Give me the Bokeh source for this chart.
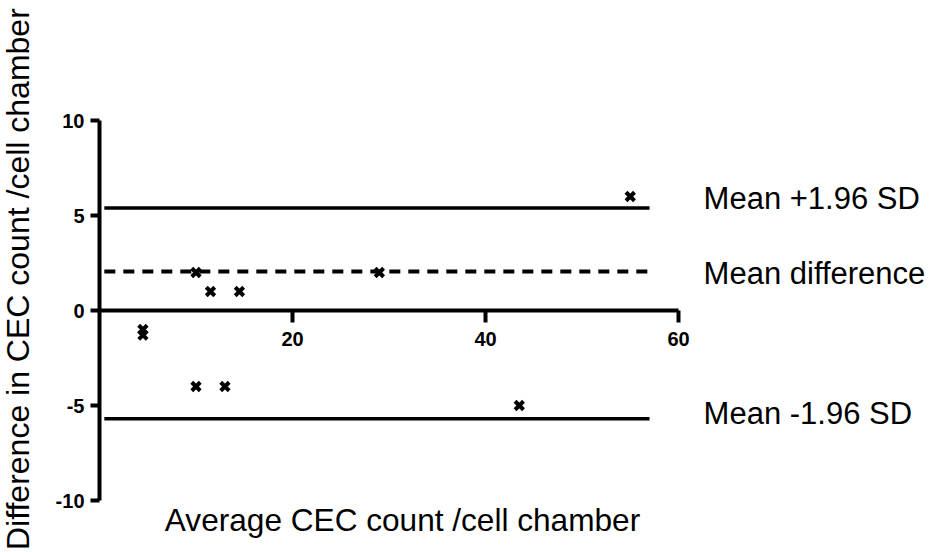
import math
from bokeh.plotting import figure
from bokeh.models import Range1d, FixedTicker, Label, ColumnDataSource, PrintfTickFormatter
from bokeh.core.properties import value
from bokeh.embed import file_html
from bokeh.resources import INLINE

# Data
avg_count = [55, 10, 29, 11.5, 14.5, 4.5, 4.5, 10, 13, 43.5]
difference = [6, 2, 2, 1, 1, -1, -1.3, -4, -4, -5]

upper_loa = 5.4
mean_diff = 2.05
lower_loa = -5.7
line_x = [0.5, 57]

line_labels = ["Mean +1.96 SD", "Mean difference", "Mean -1.96 SD"]
line_values = [upper_loa, mean_diff, lower_loa]

x_ticks = [20, 40, 60]
y_ticks = [-10, -5, 0, 5, 10]

x_title = "Average CEC count /cell chamber"
y_title = "Difference in CEC count /cell chamber"

FONT = "Liberation Sans"

# frame covers the whole canvas; axes are placed at x=0 and y=0
W, H = 937, 552
X0_PX, Y0_PX = 99, 310
PX_X, PX_Y = 9.65, 19.0

p = figure(width=W, height=H,
           x_range=Range1d(-X0_PX / PX_X, (W - X0_PX) / PX_X),
           y_range=Range1d(-(H - Y0_PX) / PX_Y, Y0_PX / PX_Y),
           output_backend="svg", toolbar_location=None,
           min_border_left=0, min_border_right=0,
           min_border_top=0, min_border_bottom=0)
p.outline_line_color = None
p.xgrid.grid_line_color = None
p.ygrid.grid_line_color = None
p.background_fill_color = "white"
p.border_fill_color = "white"

xa = p.xaxis[0]
xa.fixed_location = 0
xa.bounds = (0, 60)
xa.ticker = FixedTicker(ticks=x_ticks)
xa.formatter = PrintfTickFormatter(format="%d")
xa.axis_line_width = 4
xa.axis_line_color = "black"
xa.major_tick_line_width = 4
xa.major_tick_out = 12
xa.major_tick_in = 0
xa.minor_tick_line_color = None
xa.major_label_text_font = FONT
xa.major_label_text_font_style = "bold"
xa.major_label_text_font_size = "20px"
xa.major_label_text_color = "black"
xa.major_label_standoff = 9

ya = p.yaxis[0]
ya.fixed_location = 0
ya.bounds = (-10, 10)
ya.ticker = FixedTicker(ticks=y_ticks)
ya.formatter = PrintfTickFormatter(format="%d")
ya.axis_line_width = 4
ya.axis_line_color = "black"
ya.major_tick_line_width = 4
ya.major_tick_out = 9
ya.major_tick_in = 0
ya.minor_tick_line_color = None
ya.major_label_text_font = FONT
ya.major_label_text_font_style = "bold"
ya.major_label_text_font_size = "20px"
ya.major_label_text_color = "black"
ya.major_label_standoff = 6

# Reference lines
p.line(line_x, [upper_loa, upper_loa], line_color="black", line_width=3.5)
p.line(line_x, [mean_diff, mean_diff], line_color="black", line_width=4, line_dash="11 8")
p.line(line_x, [lower_loa, lower_loa], line_color="black", line_width=3.5)

# Points
src = ColumnDataSource(dict(x=avg_count, y=difference))
p.scatter("x", "y", source=src, marker="x", size=12, line_width=4, line_color="black")

# Line labels
lab_src = ColumnDataSource(dict(x=[62.6] * 3, y=line_values, text=line_labels,
                                dy=[-9, 2, -5]))
p.text("x", "y", text="text", source=lab_src, y_offset="dy",
       text_font=value(FONT), text_font_size="31px", text_color="black",
       text_align="left", text_baseline="middle")

# Axis titles
p.add_layout(Label(x=31.4, y=-11.05, text=x_title, text_font=FONT,
                   text_font_size="31.6px", text_align="center",
                   text_baseline="middle", text_color="black"))
p.add_layout(Label(x=-8.4, y=1.65, text=y_title, text_font=FONT,
                   text_font_size="32px", text_align="center",
                   text_baseline="middle", angle=math.pi / 2,
                   text_color="black"))

open("out.html", "w").write(file_html(p, INLINE))
